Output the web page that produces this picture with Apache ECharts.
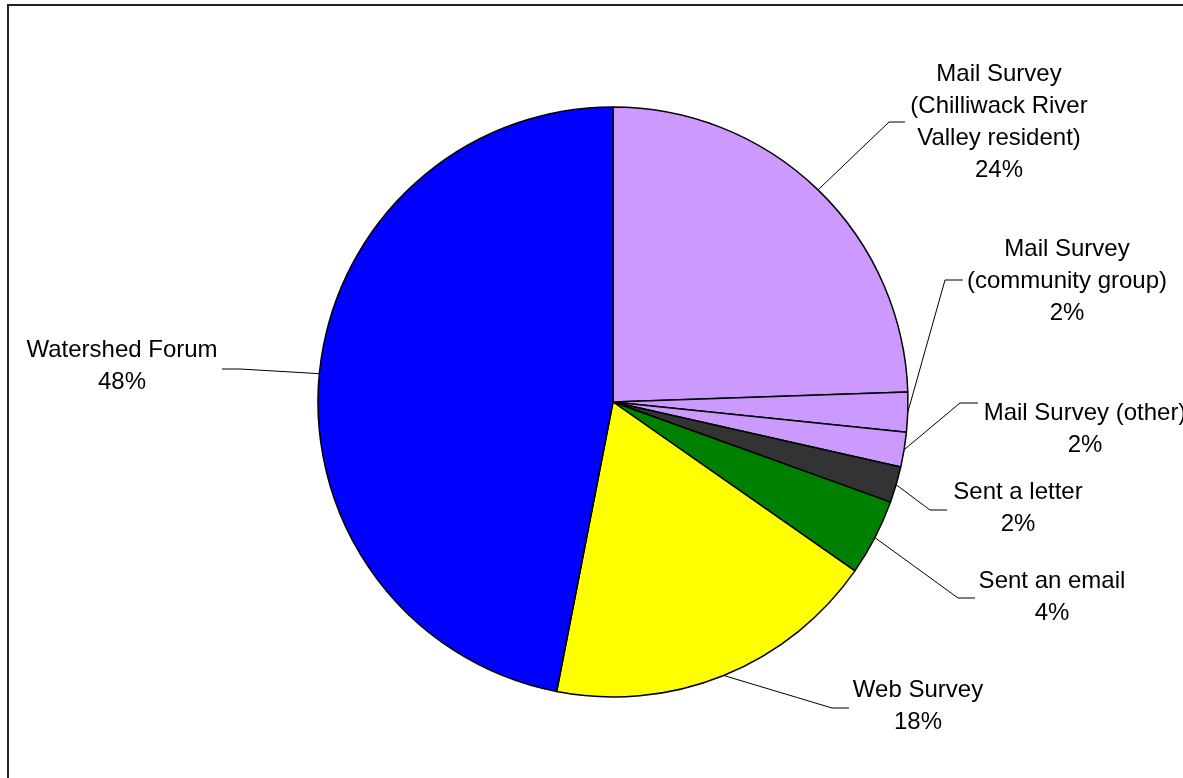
<!DOCTYPE html>
<html>
<head>
<meta charset="utf-8">
<title>Response sources</title>
<script src="https://cdn.jsdelivr.net/npm/echarts@6/dist/echarts.min.js"></script>
<style>
  html, body { margin: 0; padding: 0; background: #fff; }
  #chart { width: 1183px; height: 778px; }
</style>
</head>
<body>
<div id="chart"></div>
<script>
// slice names, clockwise from 12 o'clock
const categories = [
  'Mail Survey\n(Chilliwack River\nValley resident)',
  'Mail Survey\n(community group)',
  'Mail Survey (other)',
  'Sent a letter',
  'Sent an email',
  'Web Survey',
  'Watershed Forum'
];
// share of responses (%)
const shares = [24.46, 2.17, 1.91, 1.97, 4.19, 18.36, 46.94];
// percent text as printed on the original labels
const percentLabels = ['24%', '2%', '2%', '2%', '4%', '18%', '48%'];
const colors = ['#CC99FF', '#CC99FF', '#CC99FF', '#333333', '#008000', '#FFFF00', '#0000FF'];

// where each label sits, and the bend + end of its leader line
const labelSpots = [
  { x: 999,  y: 122, bend: [889, 122], end: [905, 122] },
  { x: 1067, y: 281, bend: [945, 280], end: [963, 280] },
  { x: 1085, y: 429, bend: [960, 403], end: [978, 403] },
  { x: 1018, y: 508, bend: [930, 510], end: [947, 510] },
  { x: 1052, y: 597, bend: [958, 598], end: [975, 598] },
  { x: 918,  y: 706, bend: [832, 708], end: [849, 708] },
  { x: 122,  y: 366, bend: [240, 369], end: [222, 369] }
];

const chart = echarts.init(document.getElementById('chart'));

const option = {
  animation: false,
  backgroundColor: '#fff',
  graphic: [{
    type: 'rect',
    shape: { x: 8, y: 5, width: 1300, height: 900 },
    style: { fill: 'none', stroke: '#222', lineWidth: 2 },
    silent: true
  }],
  series: [{
    type: 'pie',
    center: [613, 402],
    radius: 295,
    startAngle: 90,
    clockwise: true,
    avoidLabelOverlap: false,
    data: categories.map((name, i) => ({
      name: name,
      value: shares[i],
      itemStyle: { color: colors[i] }
    })),
    itemStyle: { borderColor: '#000', borderWidth: 1.5 },
    emphasis: { disabled: true },
    label: {
      show: true,
      position: 'outside',
      formatter: p => p.name + '\n' + percentLabels[p.dataIndex],
      fontFamily: '"Liberation Sans", Arial, sans-serif',
      fontSize: 24,
      lineHeight: 32,
      color: '#000',
      align: 'center'
    },
    labelLine: {
      show: true,
      length: 30,
      length2: 15,
      lineStyle: { color: '#000', width: 1 }
    },
    labelLayout: function (params) {
      const s = labelSpots[params.dataIndex];
      const start = params.labelLinePoints ? params.labelLinePoints[0] : s.bend;
      return {
        x: s.x,
        y: s.y,
        align: 'center',
        verticalAlign: 'middle',
        labelLinePoints: [start, s.bend, s.end]
      };
    }
  }]
};

chart.setOption(option);
</script>
</body>
</html>
